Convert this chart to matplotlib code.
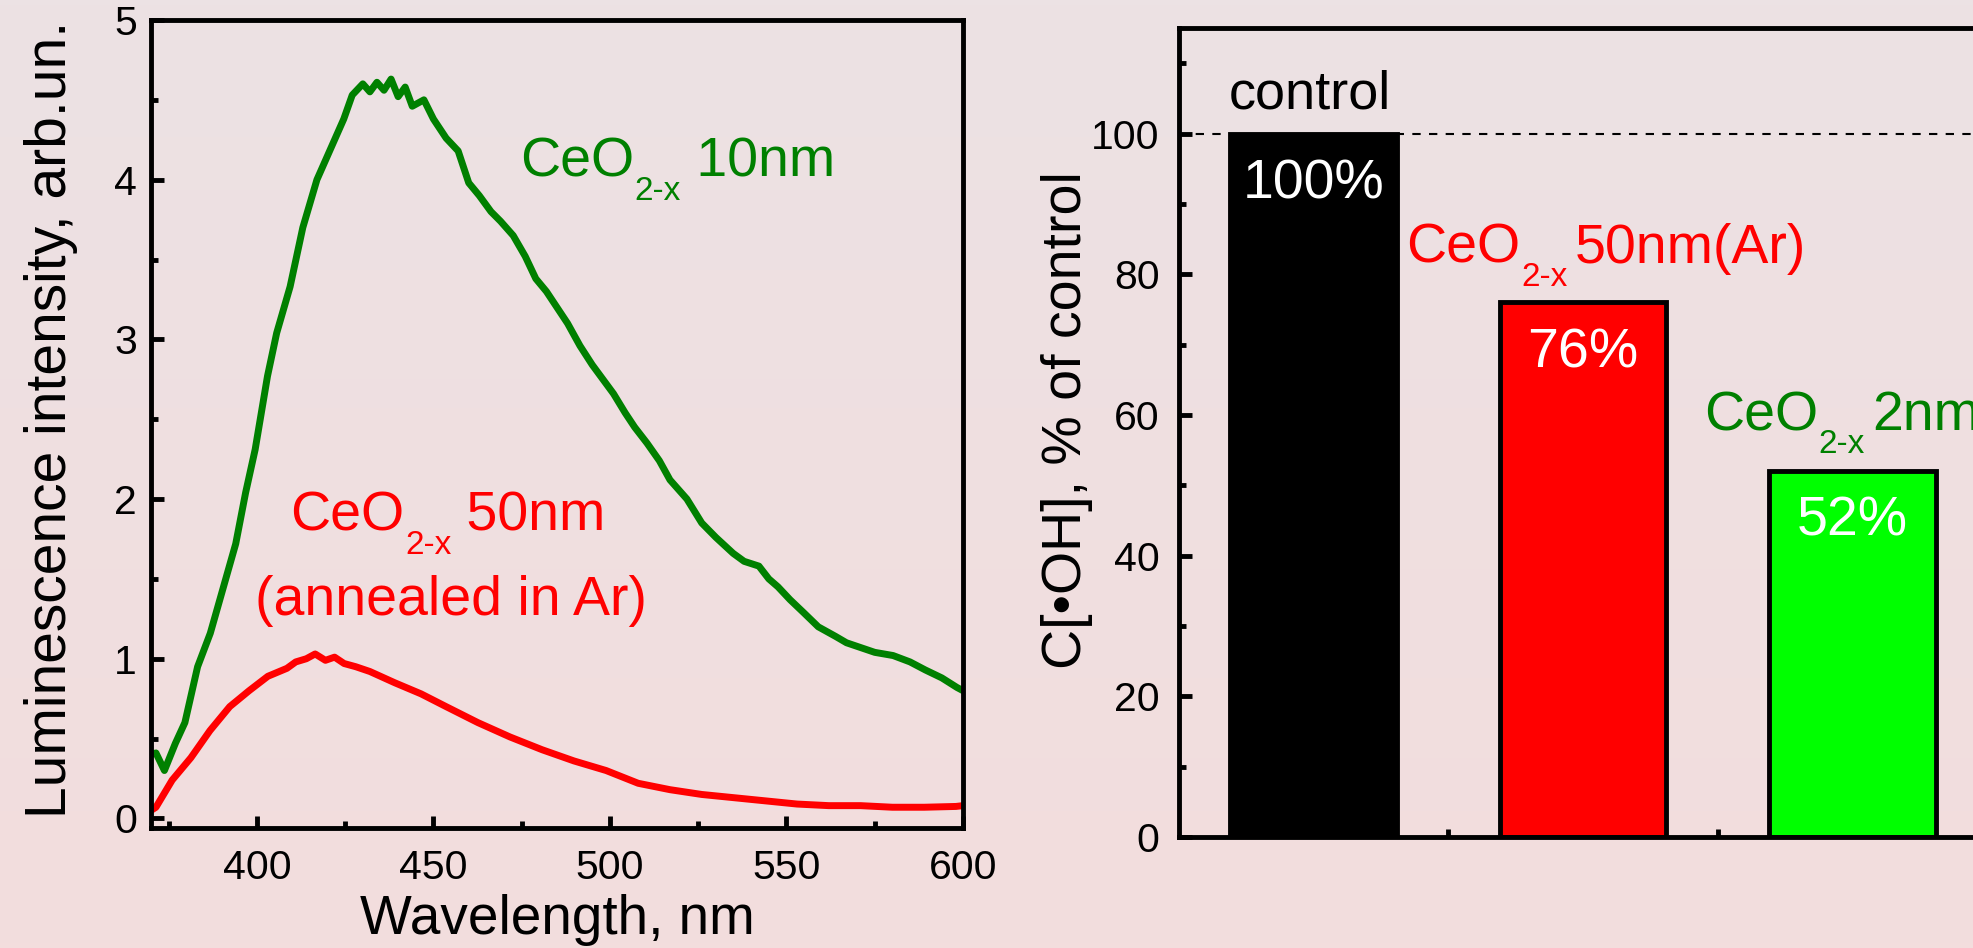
import numpy as np
import matplotlib
matplotlib.use('Agg')
import matplotlib.pyplot as plt
from matplotlib.ticker import MultipleLocator, FixedLocator

plt.rcParams['font.family'] = ['Liberation Sans', 'DejaVu Sans']

# luminescence spectra
wl_10nm = [370, 371.4, 373.8, 376.9, 379.6, 383.2, 386.8, 389.5, 394, 396.8, 399.5,
           403, 405.6, 409.4, 413, 417, 420.8, 424.6, 427, 430, 432, 434, 436, 438,
           440, 442, 444, 447.3, 450, 453.6, 457, 460, 463, 466.3, 469, 472.6, 476,
           479, 482, 485.3, 488, 491.5, 495, 498, 501, 504.3, 507, 510.5, 514, 517,
           521.8, 526, 530, 534.9, 538, 542.2, 545, 547.6, 551, 554.8, 559, 563.9,
           567, 571, 575, 580.2, 585, 589.3, 594, 598.3, 600]
int_10nm = [0.40, 0.41, 0.30, 0.47, 0.60, 0.95, 1.16, 1.37, 1.72, 2.04, 2.31,
            2.77, 3.04, 3.33, 3.70, 4.00, 4.19, 4.38, 4.53, 4.60, 4.55, 4.61, 4.56, 4.63,
            4.52, 4.58, 4.46, 4.50, 4.38, 4.26, 4.18, 3.98, 3.90, 3.80, 3.74, 3.65, 3.52,
            3.38, 3.30, 3.19, 3.10, 2.96, 2.84, 2.75, 2.66, 2.54, 2.45, 2.35, 2.24, 2.12,
            2.00, 1.85, 1.76, 1.66, 1.61, 1.58, 1.50, 1.45, 1.37, 1.29, 1.20, 1.14,
            1.10, 1.07, 1.04, 1.02, 0.98, 0.93, 0.88, 0.82, 0.80]

wl_50nm = [370, 371.4, 376, 381.3, 386.7, 392.3, 397.8, 403.1, 408.5, 411, 414,
           416.5, 419.4, 422, 424.7, 428, 432, 439, 446.5, 453.6, 462.6, 471.7, 480.8,
           489.8, 498.9, 508, 517, 526, 535, 544, 553, 562, 571, 580, 589, 598, 600]
int_50nm = [0.05, 0.07, 0.24, 0.38, 0.55, 0.70, 0.80, 0.89, 0.94, 0.98, 1.00,
            1.03, 0.99, 1.01, 0.97, 0.95, 0.92, 0.85, 0.78, 0.70, 0.60, 0.51, 0.43,
            0.36, 0.30, 0.22, 0.18, 0.15, 0.13, 0.11, 0.09, 0.08, 0.08, 0.07, 0.07, 0.075, 0.08]

# bar chart
bar_pos = [1, 2, 3]
bar_vals = [100, 76, 52]
bar_colors = ['#000000', '#ff0000', '#00ff00']
bar_texts = ['100%', '76%', '52%']

GREEN = '#008000'
RED = '#ff0000'


def chem_label(ax, x, y, main, sub, rest, fs, color, gap=0.0):
    # "CeO" + low subscript + rest, baselines kept in line
    t1 = ax.text(x, y, main, fontsize=fs, color=color, va='baseline')
    t2 = ax.annotate(sub, xy=(1, 0), xycoords=t1, xytext=(0.5, -0.2 * fs),
                     textcoords='offset points', fontsize=fs * 0.6, color=color,
                     va='baseline')
    ax.annotate(rest, xy=(1, 0), xycoords=(t2, t1), xytext=(gap, 0),
                textcoords='offset points', fontsize=fs, color=color, va='bottom')


W, H = 1973, 948
fig = plt.figure(figsize=(W / 100, H / 100), dpi=100)

# pink gradient background
bg = fig.add_axes([0, 0, 1, 1])
top = np.array([236, 226, 228]) / 255
bot = np.array([243, 221, 221]) / 255
t = np.linspace(0, 1, 200)[:, None, None]
grad = top * (1 - t) + bot * t
bg.imshow(grad, aspect='auto', extent=[0, 1, 0, 1])
bg.axis('off')

lw_sp = 3.5
tick_fs = 29.5

# ---- left: spectra
ax = fig.add_axes([151 / W, 1 - 828 / H, (963 - 151) / W, (828 - 20) / H])
ax.set_facecolor('none')
ax.plot(wl_10nm, int_10nm, color=GREEN, lw=5)
ax.plot(wl_50nm, int_50nm, color=RED, lw=5)
ax.set_xlim(370, 600)
ax.set_ylim(-0.06, 5)
ax.xaxis.set_major_locator(MultipleLocator(50))
ax.xaxis.set_minor_locator(MultipleLocator(25))
ax.yaxis.set_major_locator(MultipleLocator(1))
ax.yaxis.set_minor_locator(MultipleLocator(0.5))
for s in ax.spines.values():
    s.set_linewidth(lw_sp)
ax.tick_params(which='both', direction='in', top=False, right=False, width=lw_sp,
               labelsize=tick_fs)
ax.tick_params(which='major', length=9)
ax.tick_params(which='minor', length=5)
ax.tick_params(axis='x', pad=15)
ax.tick_params(axis='y', pad=10)
ax.set_xlabel('Wavelength, nm', fontsize=39.5)
ax.xaxis.set_label_coords(0.5, -0.082)
ax.set_ylabel('Luminescence intensity, arb.un.', fontsize=41)
ax.yaxis.set_label_coords(-0.09, 0.506)

chem_label(ax, 474.5, 4.017, 'CeO', '2-x', ' 10nm', 40, GREEN)
chem_label(ax, 409.4, 1.80, 'CeO', '2-x', ' 50nm', 40, RED)
ax.text(399.5, 1.274, '(annealed in Ar)', color=RED, fontsize=40, va='baseline')

# ---- right: bars
ax2 = fig.add_axes([1179 / W, 1 - 837 / H, (1987 - 1179) / W, (837 - 28) / H])
ax2.set_facecolor('none')
ax2.bar(bar_pos, bar_vals, width=0.62, color=bar_colors, edgecolor='black', linewidth=3.5,
        zorder=2)
ax2.axhline(100, color='black', lw=1.5, ls=(0, (4, 4)), zorder=1)
ax2.set_xlim(0.5, 3.5)
ax2.set_ylim(0, 115)
ax2.yaxis.set_major_locator(MultipleLocator(20))
ax2.yaxis.set_minor_locator(MultipleLocator(10))
ax2.xaxis.set_major_locator(FixedLocator([1.5, 2.5]))
ax2.set_xticklabels([])
for s in ax2.spines.values():
    s.set_linewidth(lw_sp)
ax2.tick_params(which='both', direction='in', top=False, right=False, width=lw_sp,
                labelsize=tick_fs)
ax2.tick_params(which='major', length=9)
ax2.tick_params(axis='x', length=6)
ax2.tick_params(which='minor', length=5)
ax2.tick_params(axis='y', pad=14)
ax2.set_ylabel('C[•OH], % of control', fontsize=40)
ax2.yaxis.set_label_coords(-0.106, 0.515)

for x, v, s in zip(bar_pos, bar_vals, bar_texts):
    ax2.text(x, v - 7.2, s, color='white', fontsize=40, ha='center', va='center', zorder=3)

ax2.text(0.685, 105.6, 'control', color='black', fontsize=39, va='center')
chem_label(ax2, 1.344, 81.6, 'CeO', '2-x', '50nm(Ar)', 40, RED, gap=5)
chem_label(ax2, 2.448, 57.85, 'CeO', '2-x', '2nm', 40, GREEN, gap=5)

fig.savefig('out.png', dpi=100)
